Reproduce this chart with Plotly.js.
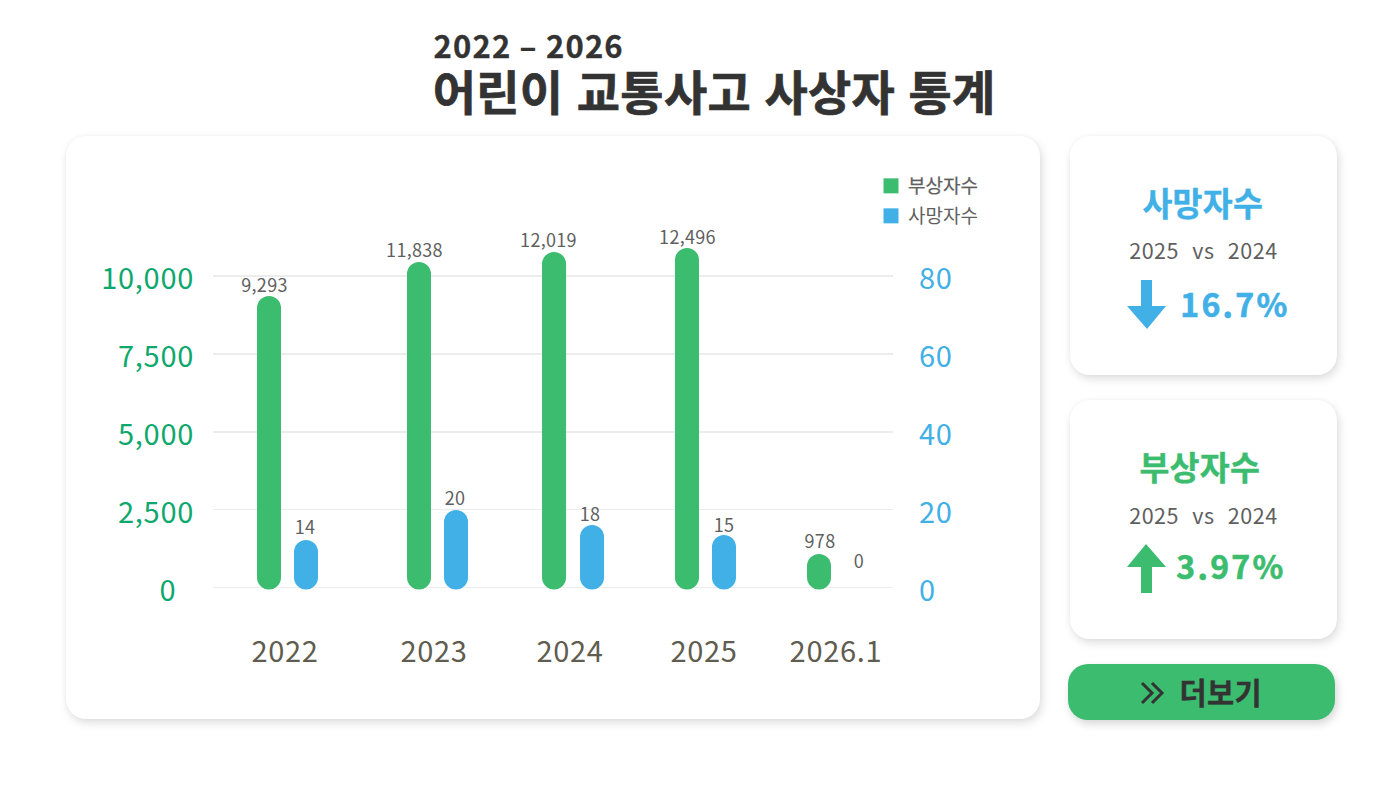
<!DOCTYPE html>
<html lang="ko">
<head>
<meta charset="utf-8">
<script src="https://cdn.plot.ly/plotly-3.0.1.min.js"></script>
<style>
html,body{margin:0;padding:0;background:#fff;width:1400px;height:790px;overflow:hidden;font-family:"Noto Sans CJK KR",sans-serif}
.card{position:absolute;background:#fff;border-radius:20px;box-shadow:2px 4px 10px rgba(0,0,0,.13),0 0 4px rgba(0,0,0,.04)}
.btn{position:absolute;background:#3bbc6f;border-radius:20px;box-shadow:2px 4px 8px rgba(0,0,0,.16)}
#chart{position:absolute;left:0;top:0;width:1400px;height:790px}
.ytick text,.y2tick text,.xtick text{letter-spacing:.7px}
.annotation text{letter-spacing:.3px}
.annotation[data-index="10"] text{letter-spacing:1.2px;stroke:#333;stroke-width:.3px}
.annotation[data-index="11"] text{stroke:#333;stroke-width:.7px}
.annotation[data-index="12"] text{stroke:#41b0e6;stroke-width:.4px}
.annotation[data-index="13"] text,.annotation[data-index="16"] text{letter-spacing:.55px}
.annotation[data-index="14"] text{letter-spacing:2.3px;stroke:#41b0e6;stroke-width:.6px}
.annotation[data-index="15"] text{stroke:#3bbc6f;stroke-width:.4px}
.annotation[data-index="17"] text{letter-spacing:2.3px;stroke:#3bbc6f;stroke-width:.6px}
.annotation[data-index="18"] text{stroke:#333;stroke-width:.4px}
.legendtext{stroke:#5f5f5f;stroke-width:.25px}
.legendpoints path{d:path("M10.5,7.5H-4.5V-7.5H10.5Z")}
</style>
</head>
<body>
<div class="card" style="left:66px;top:136px;width:974px;height:583px"></div>
<div class="card" style="left:1070px;top:136px;width:267px;height:239px"></div>
<div class="card" style="left:1070px;top:400px;width:267px;height:239px"></div>
<div class="btn" style="left:1068px;top:664px;width:267px;height:56px"></div>
<div id="chart"></div>
<script>
// Data
const categories = ["2022", "2023", "2024", "2025", "2026.1"];
const injuredLabels = ["9,293", "11,838", "12,019", "12,496", "978"];
const deathLabels = ["14", "20", "18", "15", "0"];
// Bar heights as drawn against each axis in the reference
const injuredHeights = [9358, 10449, 10770, 10899, 1075];
const deathHeights = [12.2, 19.9, 16.05, 13.5, 0];
const leftTicks = [0, 2500, 5000, 7500, 10000];
const leftTickLabels = ["0\u00a0\u00a0", "2,500", "5,000", "7,500", "10,000"];
const rightTicks = [0, 20, 40, 60, 80];
// Category positions on the x axis (groups are unevenly spaced in the reference)
const groupPositions = [0, 1, 1.913, 2.812, 3.698];

// Layout constants (pixels)
const W = 1400, H = 790;
const plotL = 213, plotR = 893, plotT = 230, plotB = 600, base0 = 587.5;
const pxPerUnitX = 149, pxPerL = 0.03115, pxPerR = 3.894;
const barW = 24, belowBase = 2;
const greenOff = [-16, -15, -16, -17, -17], blueOff = [21, 22, 22, 20, 23];
const GREEN = "#3bbc6f", BLUE = "#41b0e6", AXGREEN = "#0ea86e", DARK = "#333333", GREY = "#5f5f5f";
const FONT = '"Noto Sans CJK KR"';
const pxX = v => v / W, pxY = v => 1 - v / H;

// A bar with an explicit base is rounded at both ends by Plotly
function barTrace(name, offsPx, heights, color, yaxis, scale, legend) {
  const drop = belowBase / scale;
  return {
    type: "bar", name, x: groupPositions,
    y: heights.map(h => h > 0 ? h + drop : null),
    base: heights.map(h => h > 0 ? -drop : null), yaxis,
    width: barW / pxPerUnitX,
    offset: offsPx.map(o => (o - barW / 2) / pxPerUnitX),
    marker: {color, cornerradius: 12, line: {width: 0}}, legend, showlegend: true, hoverinfo: "skip", cliponaxis: false
  };
}

const traces = [
  barTrace("부상자수", greenOff, injuredHeights, GREEN, "y", pxPerL, "legend"),
  barTrace("사망자수", blueOff, deathHeights, BLUE, "y2", pxPerR, "legend2")
];

const labelDx1 = [-21, -20, -22, -16, -16], labelDy1 = [12, 13, 13, 12, 14];
const labelDx2 = [20, 21, 20, 20, 23], labelDy2 = [14, 13, 12, 11, 28];
const valueFont = {family: FONT, size: 18, color: GREY};
const annotations = [];
groupPositions.forEach((p, i) => {
  annotations.push({xref: "x", yref: "y", x: p, y: injuredHeights[i], text: injuredLabels[i], showarrow: false,
    xshift: labelDx1[i], yshift: labelDy1[i], xanchor: "center", yanchor: "middle", font: valueFont});
  annotations.push({xref: "x", yref: "y2", x: p, y: deathHeights[i], text: deathLabels[i], showarrow: false,
    xshift: labelDx2[i], yshift: labelDy2[i], xanchor: "center", yanchor: "middle", font: valueFont});
});
function txt(text, x, y, size, color, weight, anchor) {
  annotations.push({xref: "paper", yref: "paper", x: pxX(x), y: pxY(y), text, showarrow: false,
    xanchor: anchor || "center", yanchor: "middle",
    font: {family: FONT, size, color, weight: weight || 400}});
}
txt("2022 – 2026", 438, 45, 31, DARK, 700, "left");
txt("어린이 교통사고 사상자 통계", 433, 89, 47, DARK, 700, "left");
txt("사망자수", 1202.5, 201, 32.5, BLUE, 700);
txt("2025&nbsp;&nbsp;vs&nbsp;&nbsp;2024", 1203.5, 249, 21.5, GREY, 400);
txt("16.7%", 1234.5, 303, 32, BLUE, 700);
txt("부상자수", 1200, 465, 32.5, GREEN, 700);
txt("2025&nbsp;&nbsp;vs&nbsp;&nbsp;2024", 1203.5, 514, 21.5, GREY, 400);
txt("3.97%", 1231, 565, 32, GREEN, 700);
txt("더보기", 1220, 691, 29.5, DARK, 700);

function poly(pts, color) {
  const d = pts.map((q, i) => (i ? "L" : "M") + pxX(q[0]) + "," + pxY(q[1])).join(" ") + " Z";
  return {type: "path", xref: "paper", yref: "paper", path: d, fillcolor: color, line: {width: 0}};
}
function chevron(x) {
  const d = [[x, 683], [x + 10, 693], [x, 703]].map((q, i) => (i ? "L" : "M") + pxX(q[0]) + "," + pxY(q[1])).join(" ");
  return {type: "path", xref: "paper", yref: "paper", path: d, line: {color: DARK, width: 3}};
}
const shapes = [
  poly([[1141, 280], [1152, 280], [1152, 306], [1166, 306], [1147, 329], [1127, 306], [1141, 306]], BLUE),
  poly([[1141, 593], [1152, 593], [1152, 567], [1166, 567], [1146, 544], [1127, 567], [1141, 567]], GREEN),
  chevron(1142), chevron(1152)
];

const layout = {
  width: W, height: H, margin: {l: 0, r: 0, t: 0, b: 0},
  paper_bgcolor: "rgba(0,0,0,0)", plot_bgcolor: "rgba(0,0,0,0)",
  barmode: "overlay", showlegend: true,
  font: {family: FONT},
  xaxis: {
    domain: [plotL / W, plotR / W],
    range: [(plotL - 285) / pxPerUnitX, (plotR - 285) / pxPerUnitX],
    tickmode: "array", tickvals: groupPositions, ticktext: categories,
    tickfont: {family: FONT, size: 29, color: "#5f5c50"},
    ticks: "", showgrid: false, zeroline: false, showline: false, ticklabelstandoff: 32
  },
  yaxis: {
    domain: [1 - plotB / H, 1 - plotT / H],
    range: [-(plotB - base0) / pxPerL, (base0 - plotT) / pxPerL],
    tickmode: "array", tickvals: leftTicks, ticktext: leftTickLabels,
    tickfont: {family: FONT, size: 29, color: AXGREEN},
    gridcolor: "#ececec", gridwidth: 1.5, zeroline: false, showline: false, ticks: "",
    ticklabelstandoff: 18, ticklabelshift: 3
  },
  yaxis2: {
    overlaying: "y", side: "right",
    range: [-(plotB - base0) / pxPerR, (base0 - plotT) / pxPerR],
    tickmode: "array", tickvals: rightTicks, ticktext: rightTicks.map(String),
    tickfont: {family: FONT, size: 29, color: BLUE},
    showgrid: false, zeroline: false, showline: false, ticks: "",
    ticklabelstandoff: 25, ticklabelshift: 3
  },
  legend: {x: pxX(868), y: pxY(186), xanchor: "left", yanchor: "middle", bgcolor: "rgba(0,0,0,0)",
    font: {family: FONT, size: 19, color: GREY}},
  legend2: {x: pxX(868), y: pxY(216), xanchor: "left", yanchor: "middle", bgcolor: "rgba(0,0,0,0)",
    font: {family: FONT, size: 19, color: GREY}},
  annotations, shapes
};
Plotly.newPlot("chart", traces, layout, {displayModeBar: false, staticPlot: true});
</script>
</body>
</html>
